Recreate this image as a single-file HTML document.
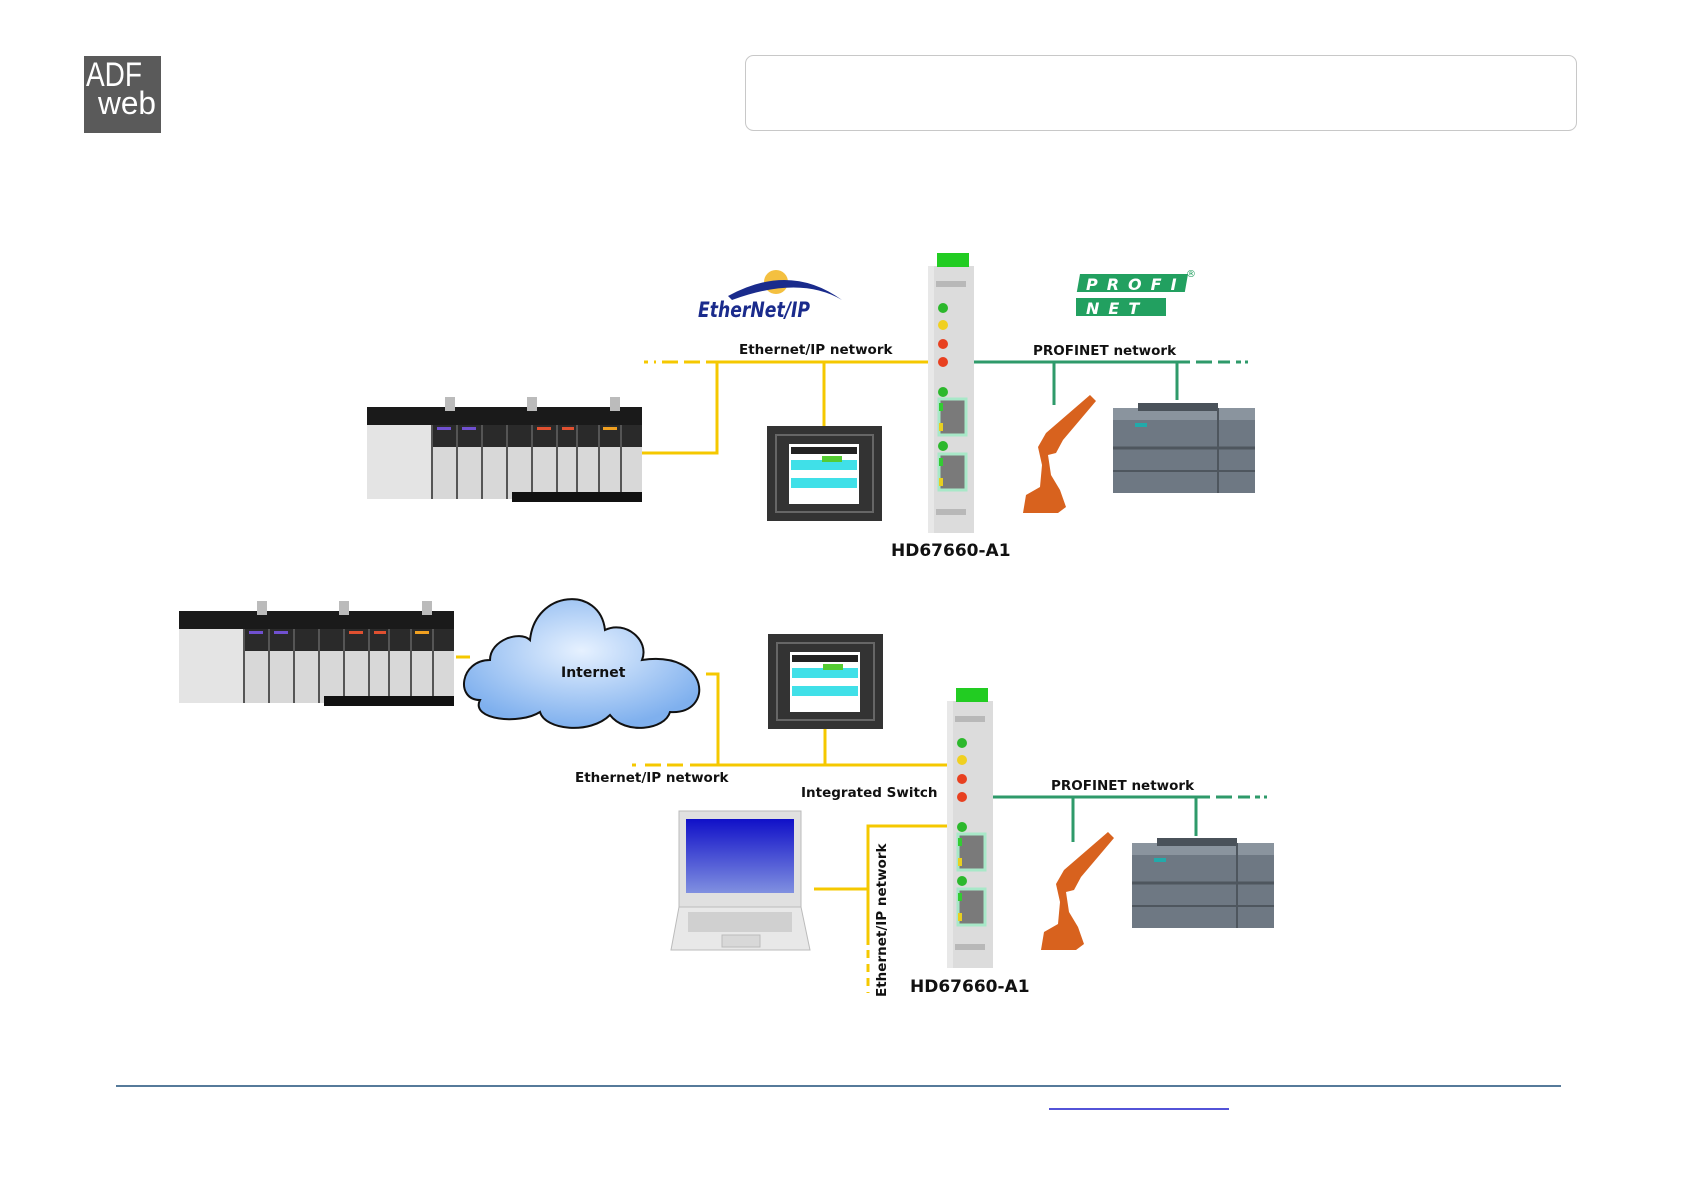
<!DOCTYPE html>
<html><head><meta charset="utf-8"><style>
html,body{margin:0;padding:0;background:#fff}
svg{display:block}
text{font-family:"DejaVu Sans","Liberation Sans",sans-serif;font-weight:bold;fill:#111}
</style></head><body>
<svg width="1684" height="1190" viewBox="0 0 1684 1190" xmlns="http://www.w3.org/2000/svg">
<defs>
<radialGradient id="cl" cx="50%" cy="40%" r="60%"><stop offset="0" stop-color="#e6f1ff"/><stop offset="1" stop-color="#7fb0ee"/></radialGradient>
<linearGradient id="scr" x1="0" y1="0" x2="0" y2="1"><stop offset="0" stop-color="#1010c8"/><stop offset="1" stop-color="#8090e0"/></linearGradient>
<g id="dev">
 <rect x="0" y="13" width="46" height="267" fill="#dcdcdc"/>
 <rect x="0" y="13" width="6" height="267" fill="#e8e8e8"/>
 <rect x="9" y="0" width="32" height="14" fill="#22cc22"/>
 <rect x="8" y="28" width="30" height="6" fill="#b8b8b8"/>
 <rect x="8" y="256" width="30" height="6" fill="#b8b8b8"/>
 <circle cx="15" cy="55" r="5" fill="#2cb82c"/>
 <circle cx="15" cy="72" r="5" fill="#f0d020"/>
 <circle cx="15" cy="91" r="5" fill="#e84020"/>
 <circle cx="15" cy="109" r="5" fill="#e84020"/>
 <circle cx="15" cy="139" r="5" fill="#2cb82c"/>
 <circle cx="15" cy="193" r="5" fill="#2cb82c"/>
 <rect x="11" y="146" width="27" height="36" fill="#7a7a7a" stroke="#a8e8c8" stroke-width="3"/>
 <rect x="11" y="201" width="27" height="36" fill="#7a7a7a" stroke="#a8e8c8" stroke-width="3"/>
 <rect x="11" y="150" width="4" height="8" fill="#33cc33"/><rect x="11" y="170" width="4" height="8" fill="#e8d020"/>
 <rect x="11" y="205" width="4" height="8" fill="#33cc33"/><rect x="11" y="225" width="4" height="8" fill="#e8d020"/>
</g>
<g id="plc">
 <rect x="0" y="10" width="275" height="92" fill="#d8d8d8"/>
 <rect x="0" y="10" width="65" height="92" fill="#e4e4e4"/>
 <rect x="0" y="10" width="275" height="18" fill="#1a1a1a"/>
 <rect x="65" y="28" width="210" height="22" fill="#2a2a2a"/>
 <g fill="#bbb"><rect x="78" y="0" width="10" height="14"/><rect x="160" y="0" width="10" height="14"/><rect x="243" y="0" width="10" height="14"/></g>
 <g stroke="#555" stroke-width="2"><line x1="65" y1="28" x2="65" y2="102"/><line x1="90" y1="28" x2="90" y2="102"/><line x1="115" y1="28" x2="115" y2="102"/><line x1="140" y1="28" x2="140" y2="102"/><line x1="165" y1="28" x2="165" y2="102"/><line x1="190" y1="28" x2="190" y2="102"/><line x1="210" y1="28" x2="210" y2="102"/><line x1="232" y1="28" x2="232" y2="102"/><line x1="254" y1="28" x2="254" y2="102"/></g>
 <rect x="145" y="95" width="130" height="10" fill="#111"/>
 <g fill="#7050d0"><rect x="70" y="30" width="14" height="3"/><rect x="95" y="30" width="14" height="3"/></g>
 <g fill="#e05030"><rect x="170" y="30" width="14" height="3"/><rect x="195" y="30" width="12" height="3"/></g>
 <g fill="#f0a020"><rect x="236" y="30" width="14" height="3"/></g>
</g>
<g id="hmi">
 <rect x="0" y="0" width="115" height="95" fill="#333"/>
 <rect x="9" y="9" width="97" height="77" fill="none" stroke="#666" stroke-width="2"/>
 <rect x="22" y="18" width="70" height="60" fill="#fff"/>
 <rect x="24" y="21" width="66" height="7" fill="#222"/>
 <rect x="24" y="34" width="66" height="10" fill="#40e0e8"/>
 <rect x="24" y="52" width="66" height="10" fill="#40e0e8"/>
 <rect x="55" y="30" width="20" height="6" fill="#55cc33"/>
</g>
<g id="robot" fill="#d8621e">
 <path d="M72 0 L78 6 L45 45 L38 58 L30 60 L33 80 L42 95 L48 112 L40 118 L5 118 L8 100 L22 92 L24 70 L20 52 L28 38 Z"/>
</g>
<g id="s7">
 <rect x="0" y="5" width="142" height="85" fill="#6e7883"/>
 <rect x="0" y="5" width="142" height="12" fill="#8a949e"/>
 <rect x="25" y="0" width="80" height="8" fill="#4a525a"/>
 <line x1="0" y1="45" x2="142" y2="45" stroke="#4e565e" stroke-width="3"/>
 <line x1="0" y1="68" x2="142" y2="68" stroke="#4e565e" stroke-width="2"/>
 <line x1="105" y1="5" x2="105" y2="90" stroke="#4e565e" stroke-width="2"/>
 <rect x="22" y="20" width="12" height="4" fill="#2aa"/>
</g>
</defs>

<!-- header -->
<rect x="84" y="56" width="77" height="77" fill="#5a5a5a"/>
<text x="86" y="86" font-size="34" style="fill:#fff;font-family:'Liberation Sans',sans-serif;font-weight:normal" textLength="56" lengthAdjust="spacingAndGlyphs">ADF</text>
<text x="98" y="114" font-size="32" style="fill:#fff;font-family:'Liberation Sans',sans-serif;font-weight:normal" textLength="58" lengthAdjust="spacingAndGlyphs">web</text>
<rect x="745.5" y="55.5" width="831" height="75" rx="8" fill="none" stroke="#c8c8c8"/>

<!-- ===== diagram 1 ===== -->
<g stroke="#f5c800" stroke-width="3" fill="none">
 <line x1="644" y1="362" x2="656" y2="362" stroke-dasharray="4 6"/>
 <line x1="662" y1="362" x2="700" y2="362" stroke-dasharray="16 6"/>
 <line x1="706" y1="362" x2="928" y2="362"/>
 <polyline points="717,362 717,453 642,453"/>
 <line x1="824" y1="362" x2="824" y2="426"/>
</g>
<g stroke="#2e9a6a" stroke-width="3" fill="none">
 <line x1="974" y1="362" x2="1190" y2="362"/>
 <line x1="1196" y1="362" x2="1230" y2="362" stroke-dasharray="16 6"/>
 <line x1="1236" y1="362" x2="1248" y2="362" stroke-dasharray="5 4"/>
 <line x1="1054" y1="362" x2="1054" y2="405"/>
 <line x1="1177" y1="362" x2="1177" y2="400"/>
</g>
<use href="#plc" x="367" y="397"/>
<use href="#hmi" x="767" y="426"/>
<use href="#dev" x="928" y="253"/>
<use href="#robot" x="1018" y="395"/>
<use href="#s7" x="1113" y="403"/>
<!-- ethernet/ip logo -->
<circle cx="776" cy="282" r="12" fill="#f4c040"/>
<path d="M728 296 Q790 262 842 300 Q800 275 732 300" fill="#1a2b8c"/>
<text x="698" y="317" font-size="21" style="fill:#1a2b8c;font-style:italic" textLength="112" lengthAdjust="spacingAndGlyphs">EtherNet/IP</text>
<!-- profinet logo -->
<g fill="#22a060">
 <rect x="1080" y="274" width="108" height="18" transform="skewX(-10)" transform-origin="1080 274"/>
 <rect x="1076" y="298" width="90" height="18"/>
</g>
<text x="1086" y="290" font-size="16" style="fill:#fff;font-style:italic" letter-spacing="9">PROFI</text>
<text x="1086" y="314" font-size="16" style="fill:#fff;font-style:italic" letter-spacing="9">NET</text>
<text x="1186" y="277" font-size="10" style="fill:#22a060;font-weight:normal">®</text>
<text x="739" y="354" font-size="13.5">Ethernet/IP network</text>
<text x="1033" y="355" font-size="13.5">PROFINET network</text>
<text x="891" y="556" font-size="17">HD67660-A1</text>

<!-- ===== diagram 2 ===== -->
<use href="#plc" x="179" y="601"/>
<line x1="456" y1="657" x2="470" y2="657" stroke="#f5c800" stroke-width="3"/>
<path d="M480 700 C455 700 460 660 490 660 C490 640 520 630 530 640 C535 590 600 585 605 630 C625 620 650 640 642 660 C710 650 715 715 670 712 C665 730 625 735 610 715 C590 735 545 730 540 712 C520 725 470 720 480 700 Z" fill="url(#cl)" stroke="#111" stroke-width="2"/>
<text x="561" y="677" font-size="14">Internet</text>
<use href="#hmi" x="768" y="634"/>
<g stroke="#f5c800" stroke-width="3" fill="none">
 <polyline points="706,674 718,674 718,765"/>
 <line x1="825" y1="729" x2="825" y2="765"/>
 <line x1="632" y1="765" x2="640" y2="765" stroke-dasharray="4 4"/>
 <line x1="645" y1="765" x2="685" y2="765" stroke-dasharray="16 6"/>
 <line x1="690" y1="765" x2="947" y2="765"/>
 <polyline points="947,826 868,826 868,945"/>
 <line x1="868" y1="950" x2="868" y2="993" stroke-dasharray="8 6"/>
 <line x1="814" y1="889" x2="868" y2="889"/>
</g>
<g stroke="#2e9a6a" stroke-width="3" fill="none">
 <line x1="993" y1="797" x2="1210" y2="797"/>
 <line x1="1216" y1="797" x2="1250" y2="797" stroke-dasharray="16 6"/>
 <line x1="1255" y1="797" x2="1267" y2="797" stroke-dasharray="5 4"/>
 <line x1="1073" y1="797" x2="1073" y2="842"/>
 <line x1="1196" y1="797" x2="1196" y2="836"/>
</g>
<use href="#dev" x="947" y="688"/>
<use href="#robot" x="1036" y="832"/>
<use href="#s7" x="1132" y="838"/>
<!-- laptop -->
<rect x="679" y="811" width="122" height="96" fill="#e0e0e0" stroke="#bbb"/>
<rect x="686" y="819" width="108" height="74" fill="url(#scr)"/>
<path d="M679 907 L801 907 L810 950 L671 950 Z" fill="#e8e8e8" stroke="#bbb"/>
<rect x="688" y="912" width="104" height="20" fill="#d0d0d0"/>
<rect x="722" y="935" width="38" height="12" fill="#d8d8d8" stroke="#bbb"/>
<text x="575" y="782" font-size="13.5">Ethernet/IP network</text>
<text x="801" y="797" font-size="13.5">Integrated Switch</text>
<text x="1051" y="790" font-size="13.5">PROFINET network</text>
<text transform="translate(886,997) rotate(-90)" font-size="13.5">Ethernet/IP network</text>
<text x="910" y="992" font-size="17">HD67660-A1</text>

<!-- footer -->
<line x1="116" y1="1086" x2="1561" y2="1086" stroke="#1f4e79" stroke-width="1.5"/>
<line x1="1049" y1="1109" x2="1229" y2="1109" stroke="#1a1acc" stroke-width="1.5"/>
</svg>
</body></html>
